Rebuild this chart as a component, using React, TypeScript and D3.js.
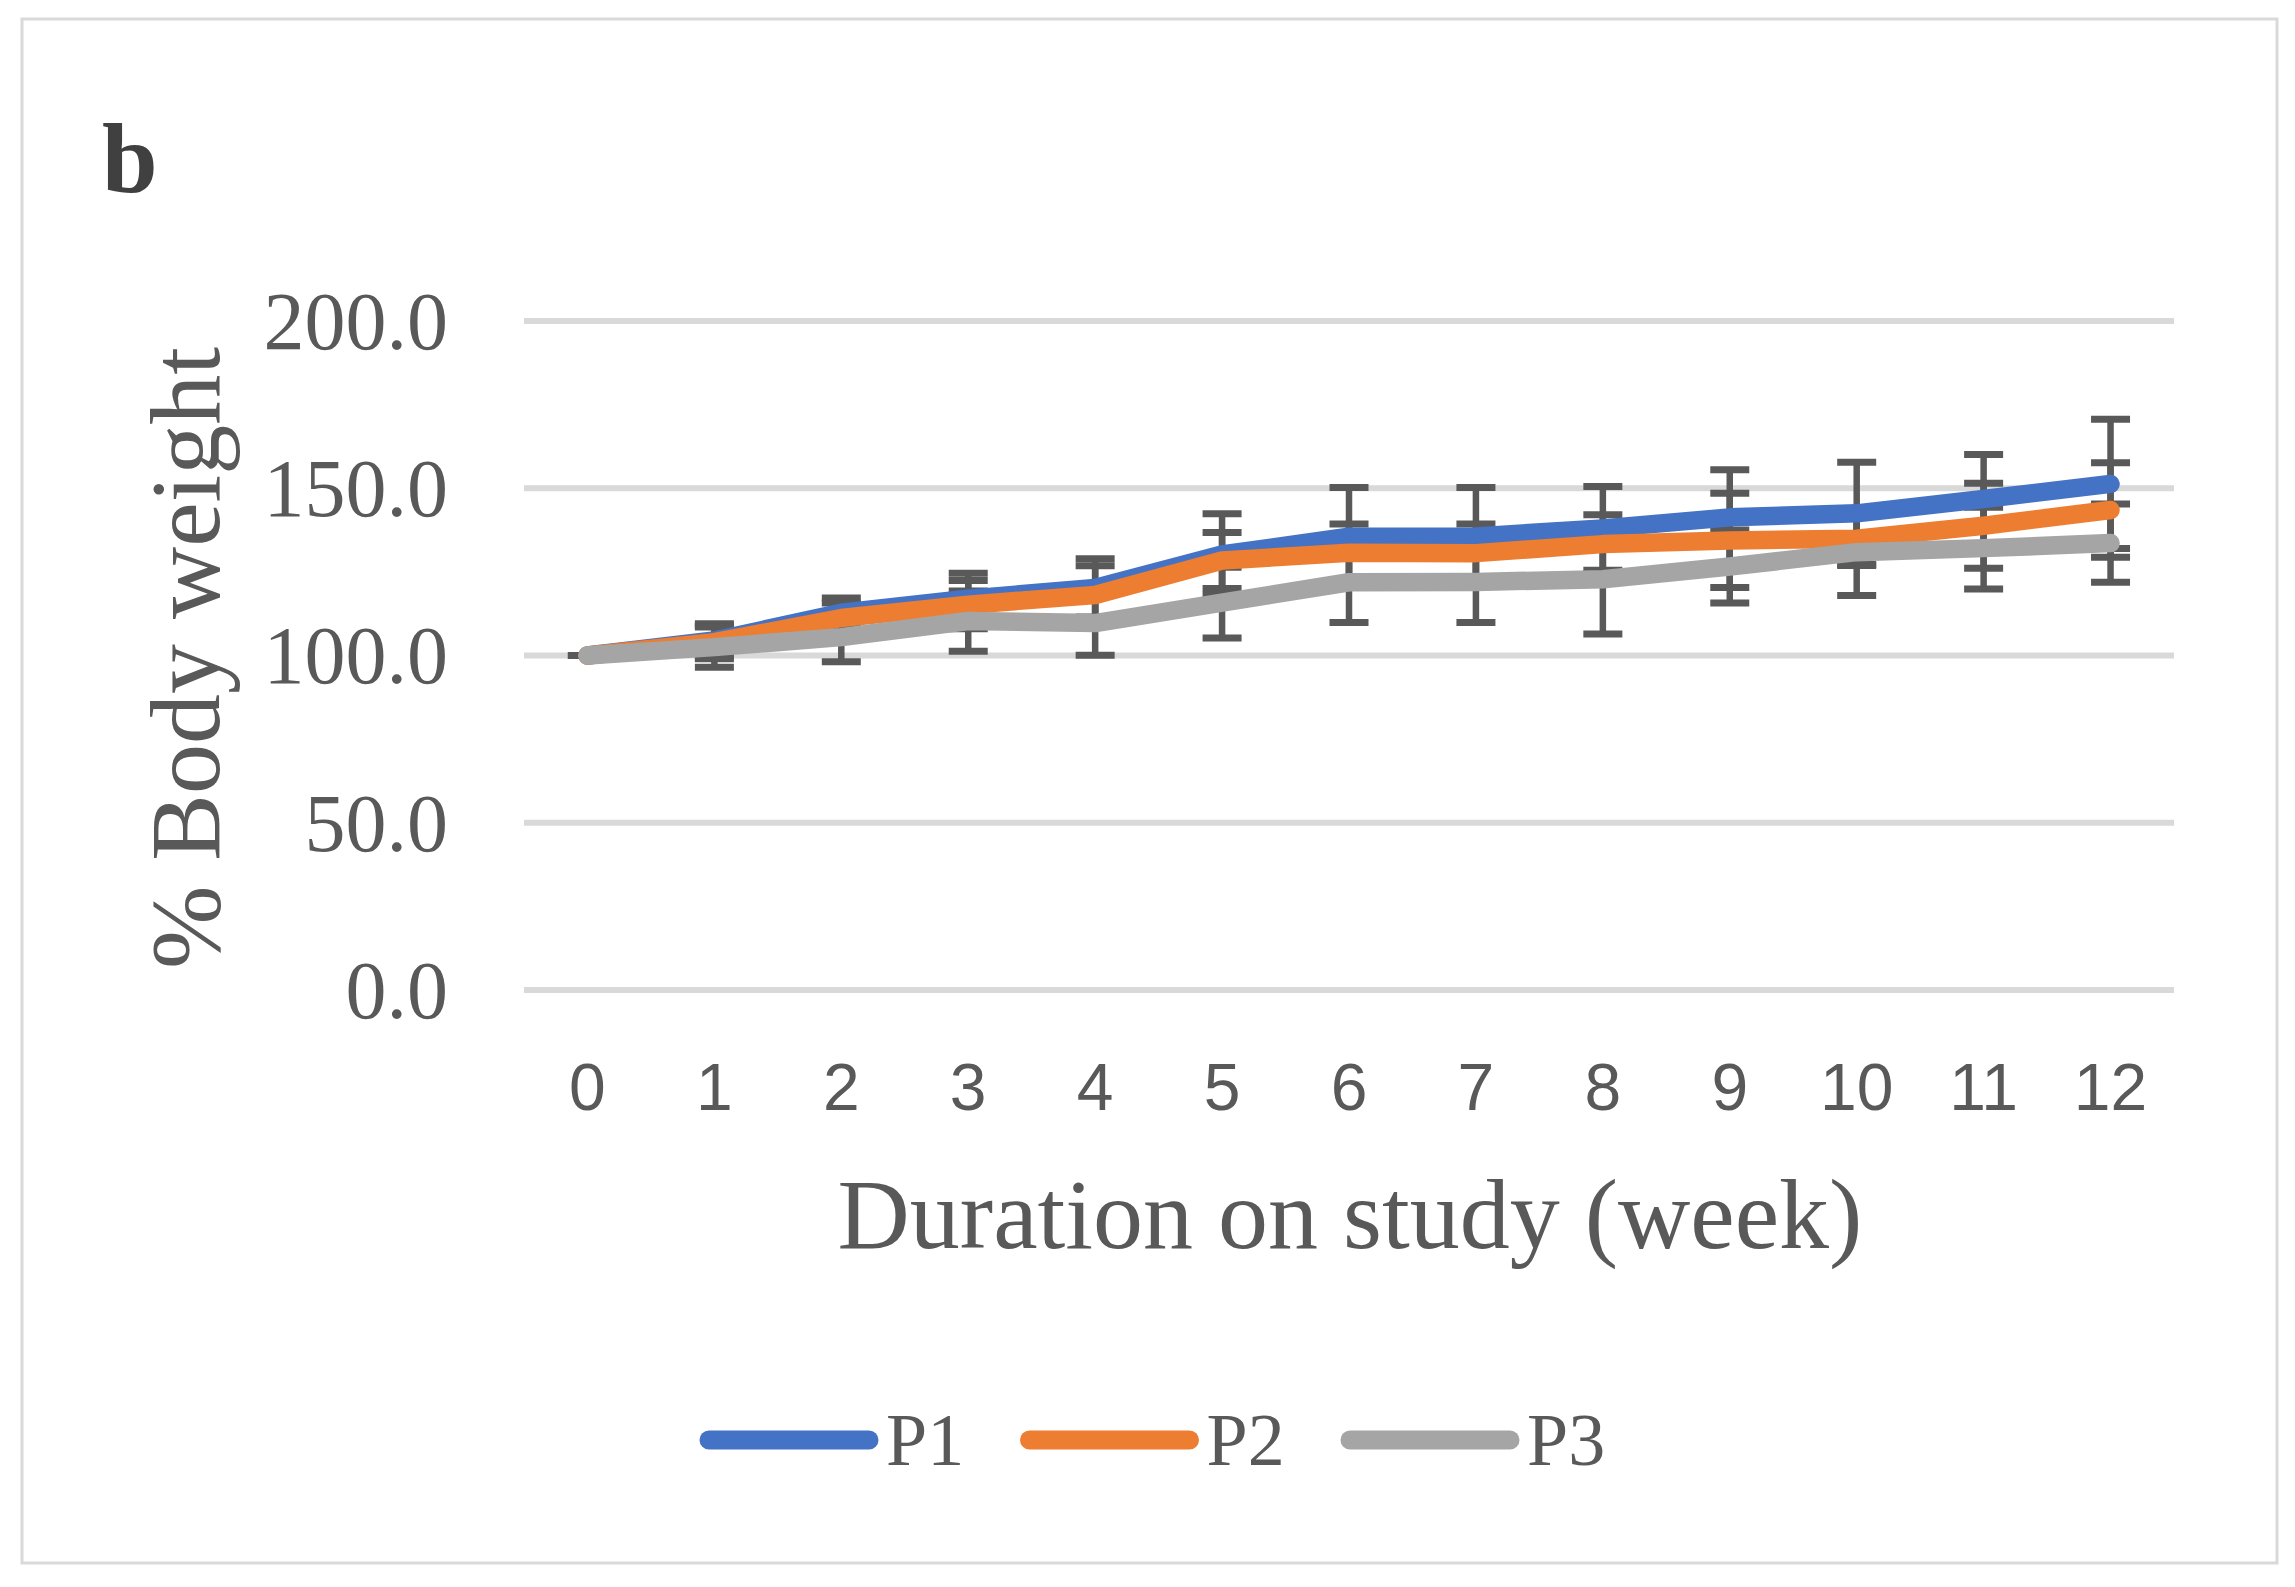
import { useRef, useEffect } from 'react';
import * as d3 from 'd3';

const weeks = [0, 1, 2, 3, 4, 5, 6, 7, 8, 9, 10, 11, 12];
const yTicks = [0, 50, 100, 150, 200];
const seriesNames = ['P1', 'P2', 'P3'];
const seriesColors = ['#4472C4', '#ED7D31', '#A5A5A5'];

const p1 = [100, 104.5, 112.8, 117.0, 120.2, 130.2, 135.5, 135.6, 138.0, 141.3, 142.5, 146.8, 151.3];
const p2 = [100, 104.0, 111.2, 115.2, 118.1, 128.4, 130.7, 130.6, 133.3, 134.4, 134.9, 138.8, 143.5];
const p3 = [100, 102.5, 105.5, 110.3, 109.7, 115.8, 121.9, 122.0, 122.8, 126.6, 130.9, 132.1, 133.6];

const e1 = [0, 5, 4.4, 7.6, 8.7, 12.2, 14.7, 14.6, 12.5, 14.2, 15.3, 13.3, 19.3];
const e2 = [0, 5, 4.5, 7.2, 8.7, 8.4, 8.6, 8.7, 8.8, 14.1, 8, 12.7, 14.1];
const e3 = [0, 6, 7.4, 9, 9.6, 10.6, 12, 12.1, 16.4, 10.9, 13, 12.2, 11.7];

const W = 2295;
const H = 1587;

const Chart = () => {
    const ref = useRef(null);

    useEffect(() => {
        const svg = d3.select(ref.current);
        svg.selectAll('*').remove();

        const serif = '"Liberation Serif", "Times New Roman", serif';
        const textColor = '#595959';

        // outer frame
        svg.append('rect')
            .attr('x', 22).attr('y', 19)
            .attr('width', 2255).attr('height', 1544)
            .attr('fill', '#fff')
            .attr('stroke', '#D9D9D9')
            .attr('stroke-width', 3);

        svg.append('text')
            .attr('x', 102).attr('y', 192)
            .attr('font-family', serif)
            .attr('font-weight', 'bold')
            .attr('font-size', 100)
            .attr('fill', '#404040')
            .text('b');

        const x = d3.scaleBand()
            .domain(weeks.map(String))
            .range([524, 2174])
            .padding(0);
        const cx = (w) => x(String(w)) + x.bandwidth() / 2;

        const y = d3.scaleLinear()
            .domain([0, 200])
            .range([990, 321]);

        // gridlines
        svg.append('g').selectAll('line')
            .data(yTicks)
            .enter().append('line')
            .attr('x1', 524).attr('x2', 2174)
            .attr('y1', d => y(d)).attr('y2', d => y(d))
            .attr('stroke', '#D9D9D9')
            .attr('stroke-width', 6);

        // y tick labels
        svg.append('g').selectAll('text')
            .data(yTicks)
            .enter().append('text')
            .attr('x', 448)
            .attr('y', d => y(d))
            .attr('dy', '0.34em')
            .attr('text-anchor', 'end')
            .attr('font-family', serif)
            .attr('font-size', 82)
            .attr('fill', textColor)
            .text(d => d3.format('.1f')(d));

        // x tick labels
        svg.append('g').selectAll('text')
            .data(weeks)
            .enter().append('text')
            .attr('x', d => cx(d))
            .attr('y', 1110)
            .attr('text-anchor', 'middle')
            .attr('font-family', '"Liberation Sans", Arial, sans-serif')
            .attr('font-size', 66)
            .attr('fill', textColor)
            .text(d => d);

        // axis titles
        svg.append('text')
            .attr('x', 1350).attr('y', 1248)
            .attr('text-anchor', 'middle')
            .attr('font-family', serif)
            .attr('font-size', 100)
            .attr('fill', textColor)
            .text('Duration on study (week)');

        svg.append('text')
            .attr('transform', 'translate(219,658) rotate(-90)')
            .attr('text-anchor', 'middle')
            .attr('font-family', serif)
            .attr('font-size', 100)
            .attr('fill', textColor)
            .text('% Body weight');

        const series = [
            { name: seriesNames[0], color: seriesColors[0], values: p1, errs: e1 },
            { name: seriesNames[1], color: seriesColors[1], values: p2, errs: e2 },
            { name: seriesNames[2], color: seriesColors[2], values: p3, errs: e3 },
        ];

        // error bars (drawn beneath the lines)
        const eb = svg.append('g');
        series.forEach(s => {
            const pts = weeks.map((w, i) => ({ w, v: s.values[i], e: s.errs[i] }));
            const g = eb.append('g');
            g.selectAll('.stem')
                .data(pts)
                .enter().append('line')
                .attr('x1', d => cx(d.w)).attr('x2', d => cx(d.w))
                .attr('y1', d => y(d.v + d.e)).attr('y2', d => y(d.v - d.e))
                .attr('stroke', '#595959')
                .attr('stroke-width', 6.5);
            [1, -1].forEach(sign => {
                g.selectAll('.cap' + sign)
                    .data(pts)
                    .enter().append('line')
                    .attr('x1', d => cx(d.w) - 19.5).attr('x2', d => cx(d.w) + 19.5)
                    .attr('y1', d => y(d.v + sign * d.e)).attr('y2', d => y(d.v + sign * d.e))
                    .attr('stroke', '#595959')
                    .attr('stroke-width', 7);
            });
        });

        const line = d3.line()
            .x((d, i) => cx(weeks[i]))
            .y(d => y(d));

        series.forEach(s => {
            svg.append('path')
                .datum(s.values)
                .attr('d', line)
                .attr('fill', 'none')
                .attr('stroke', s.color)
                .attr('stroke-width', 18.5)
                .attr('stroke-linecap', 'round')
                .attr('stroke-linejoin', 'round');
        });

        // legend
        const lg = svg.append('g');
        series.forEach((s, i) => {
            const lx = 700 + i * 320.5;
            lg.append('line')
                .attr('x1', lx + 9).attr('x2', lx + 169)
                .attr('y1', 1440).attr('y2', 1440)
                .attr('stroke', s.color)
                .attr('stroke-width', 19)
                .attr('stroke-linecap', 'round');
            lg.append('text')
                .attr('x', lx + 186).attr('y', 1465)
                .attr('font-family', serif)
                .attr('font-size', 74)
                .attr('fill', textColor)
                .text(s.name);
        });
    }, []);

    return <svg ref={ref} width={W} height={H} style={{ position: 'absolute', left: 0, top: 0, background: '#fff' }}></svg>;
};

export default function App() {
    return <Chart />;
}
